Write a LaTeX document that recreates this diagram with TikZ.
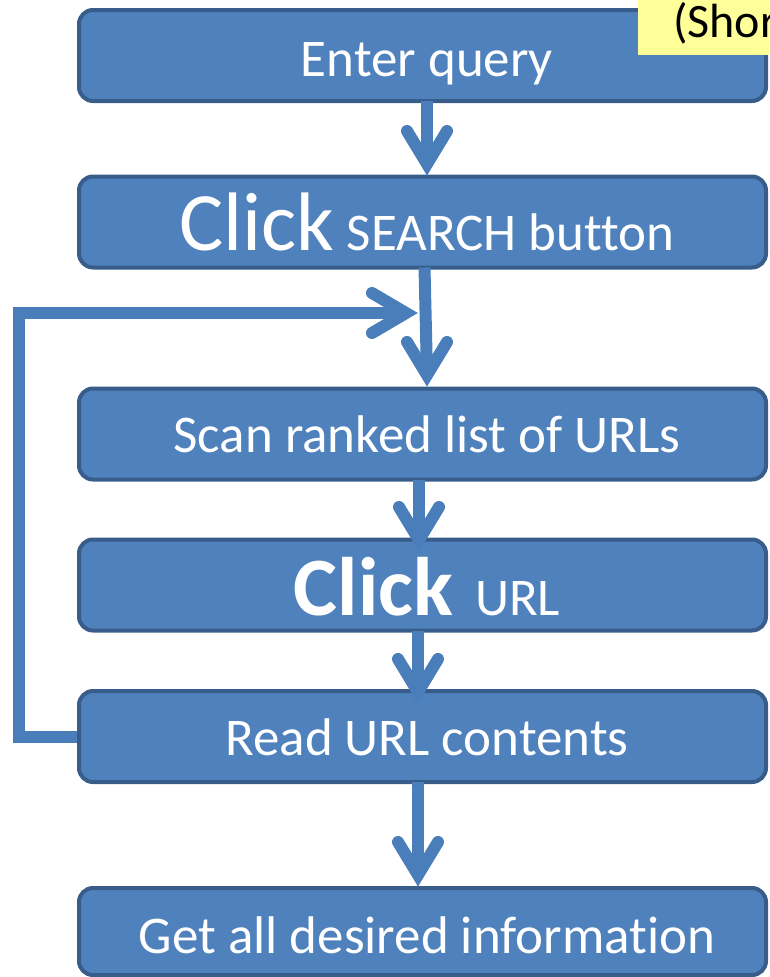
\documentclass[tikz,border=0pt]{standalone}
\usepackage{fontspec}
\setmainfont{Carlito}[Ligatures=NoCommon]
\definecolor{boxfill}{RGB}{79,129,189}
\definecolor{boxedge}{RGB}{56,93,138}
\definecolor{flowcol}{RGB}{74,126,187}
\definecolor{notefill}{RGB}{255,255,153}
\newcommand{\stdfont}{\fontsize{53}{60}\selectfont}
\newcommand{\hugefont}{\fontsize{83}{90}\selectfont}
\begin{document}
\begin{tikzpicture}[x=1pt,y=-1pt,
  stepbox/.style={draw=boxedge, line width=4pt, fill=boxfill, rounded corners=14pt,
    minimum width=687pt, minimum height=91pt, inner sep=0pt, outer sep=0pt},
  lbl/.style={anchor=base, text=white, font=\stdfont, inner sep=0pt},
  flow/.style={draw=flowcol, line width=12pt},
  headstroke/.style={draw=flowcol, line width=12pt, line cap=round, line join=miter},
  downhead/.pic={\draw[headstroke] (-20,-45) -- (0,-12) -- (20,-45);},
  righthead/.pic={\draw[headstroke] (-46,-20) -- (-12,0) -- (-46,20);},
]
\useasboundingbox (0,0) rectangle (769,977);
\clip (0,0) rectangle (769,977);

% arrow tips
\coordinate (t1) at (427,176);
\coordinate (t2) at (427,387);
\coordinate (t3) at (419,552);
\coordinate (t4) at (418,704);
\coordinate (t5) at (418,887);
\coordinate (tl) at (418,313);
\coordinate (lp) at (18.5,313);

% boxes
\node[stepbox] (b1) at (422.5,55.5) {};
\node[stepbox] (b2) at (422.5,222) {};
\node[stepbox] (b3) at (422.5,434) {};
\node[stepbox] (b4) at (422.5,585) {};
\node[stepbox] (b5) at (422.5,736.5) {};
\node[stepbox, minimum height=87pt] (b6) at (422.5,931.5) {};

% feedback loop from reading back to the search result
\draw[flow, line join=miter] ([xshift=-2pt]b5.west) -| (lp) -- ([shift={(-12,0)}]tl);
\pic at (tl) {righthead};

% labels
\node[lbl] (l1) at (427,76) {Enter query};
\node[lbl] (l2) at (427,250) {{\hugefont Click} SEARCH button};
\node[lbl] (l3) at (427,452) {Scan ranked list of URLs};
\node[lbl] (l4) at (427,615) {{\hugefont\bfseries Click}\hspace{22pt}URL};
\node[lbl] (l5) at (427,755) {Read URL contents};
\node[lbl] (l6) at (427,953) {Get all desired information};

% downward flow
\draw[flow] (t1 |- b1.south) -- ([shift={(0,-12)}]t1);
\pic at (t1) {downhead};
\draw[flow] ([xshift=2pt]b2.south) -- ([shift={(0,-12)}]t2);
\pic at (t2) {downhead};
\draw[flow] (t3 |- b3.south) -- ([shift={(0,-12)}]t3);
\pic at (t3) {downhead};
\draw[flow] (t4 |- b4.south) -- ([shift={(0,-12)}]t4);
\pic at (t4) {downhead};
\draw[flow] (t5 |- b5.south) -- ([shift={(0,-12)}]t5);
\pic at (t5) {downhead};

% note in the corner
\path[fill=notefill] (638,-2) rectangle (800,55);
\node[anchor=base west, inner sep=0pt, font=\fontsize{48}{54}\selectfont] (note) at (673,37) {(Shor};
\end{tikzpicture}
\end{document}
